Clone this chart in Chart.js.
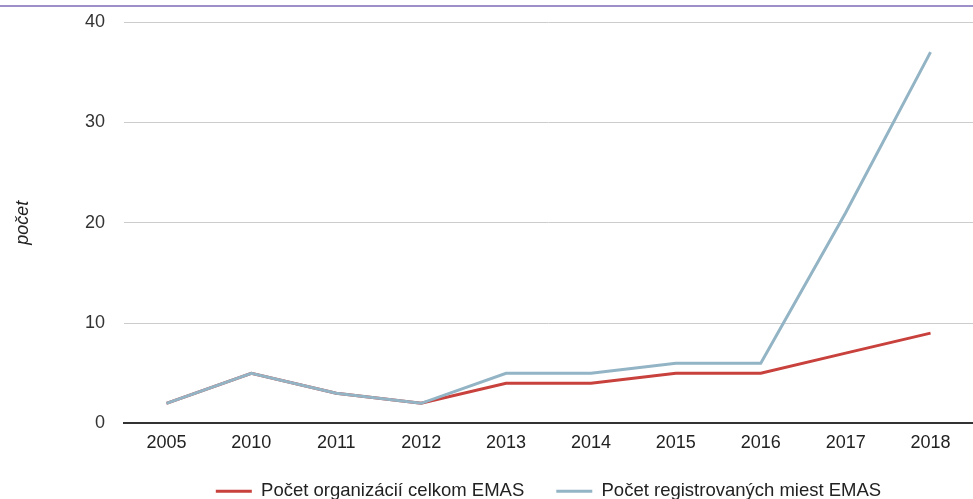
<!DOCTYPE html>
<html>
<head>
<meta charset="utf-8">
<script src="https://cdn.jsdelivr.net/npm/chart.js@4"></script>
<style>
  html, body { margin: 0; padding: 0; background: #fff; }
  #wrap { width: 973px; height: 499px; }
</style>
</head>
<body>
<div id="wrap"><canvas id="myChart"></canvas></div>
<script>
const years = ['2005', '2010', '2011', '2012', '2013', '2014', '2015', '2016', '2017', '2018'];
const organizacie = [2, 5, 3, 2, 4, 4, 5, 5, 7, 9];
const miesta = [2, 5, 3, 2, 5, 5, 6, 6, 21, 37];
const yTicks = [0, 10, 20, 30, 40];

// purple rule of the (cropped) heading at the very top
const topRule = {
    id: 'topRule',
    beforeDraw(chart) {
        const c = chart.ctx;
        c.save();
        c.strokeStyle = '#9d8fc8';
        c.lineWidth = 2;
        c.beginPath();
        c.moveTo(0, 6);
        c.lineTo(chart.width, 6);
        c.stroke();
        c.restore();
    }
};

// legend: short box, centred under the plot area, items drawn a bit lower
const legendSpot = {
    id: 'legendSpot',
    beforeUpdate(chart) {
        const lg = chart.legend;
        if (!lg || lg._patched) return;
        lg._patched = true;
        const fit = lg.fit;
        lg.fit = function () { fit.call(this); this.height = 36; };
        const draw = lg.draw;
        lg.draw = function () {
            const t = this.top, l = this.left;
            this.top = chart.height - 49;
            this.left = chart.chartArea.left;
            draw.call(this);
            this.top = t;
            this.left = l;
        };
    }
};

const ctx = document.getElementById('myChart').getContext('2d');

const myChart = new Chart(ctx, {
    type: 'line',
    data: {
        labels: years,
        datasets: [{
            label: 'Počet organizácií celkom EMAS',
            data: organizacie,
            borderColor: '#c8413c',
            backgroundColor: '#c8413c',
            borderWidth: 3,
            pointRadius: 0,
            tension: 0,
            order: 1
        }, {
            label: 'Počet registrovaných miest EMAS',
            data: miesta,
            borderColor: '#93b4c5',
            backgroundColor: '#93b4c5',
            borderWidth: 3,
            pointRadius: 0,
            tension: 0,
            order: 0
        }]
    },
    options: {
        responsive: true,
        maintainAspectRatio: false,
        animation: false,
        layout: { padding: { top: 0, right: 0, bottom: 0, left: 12 } },
        scales: {
            x: {
                offset: true,
                grid: { display: false, drawTicks: false },
                border: { color: '#333', width: 2 },
                ticks: { color: '#222', font: { family: 'Liberation Sans', size: 18 }, padding: 9, maxRotation: 0 }
            },
            y: {
                min: 0,
                max: 40,
                afterBuildTicks: (scale) => { scale.ticks = yTicks.map(v => ({ value: v })); },
                afterFit: (scale) => { scale.width = 112; scale.paddingTop = 22; },
                grid: { color: '#cccccc', drawTicks: false },
                border: { display: false },
                ticks: { color: '#333', font: { family: 'Liberation Sans', size: 18 }, padding: 19 },
                title: {
                    display: true,
                    text: 'počet',
                    color: '#222',
                    font: { family: 'Liberation Sans', size: 18, style: 'italic' },
                    padding: { top: 0, bottom: 0 }
                }
            }
        },
        plugins: {
            legend: {
                position: 'bottom',
                labels: {
                    boxWidth: 36,
                    boxHeight: 3,
                    padding: 32,
                    color: '#222',
                    font: { family: 'Liberation Sans', size: 18.5 },
                    sort: (a, b) => a.datasetIndex - b.datasetIndex,
                    generateLabels: function(chart) {
                        const items = Chart.defaults.plugins.legend.labels.generateLabels(chart);
                        items.forEach(it => { it.lineWidth = 0; });
                        return items;
                    }
                }
            },
            tooltip: { enabled: false }
        }
    },
    plugins: [topRule, legendSpot]
});
</script>
</body>
</html>
